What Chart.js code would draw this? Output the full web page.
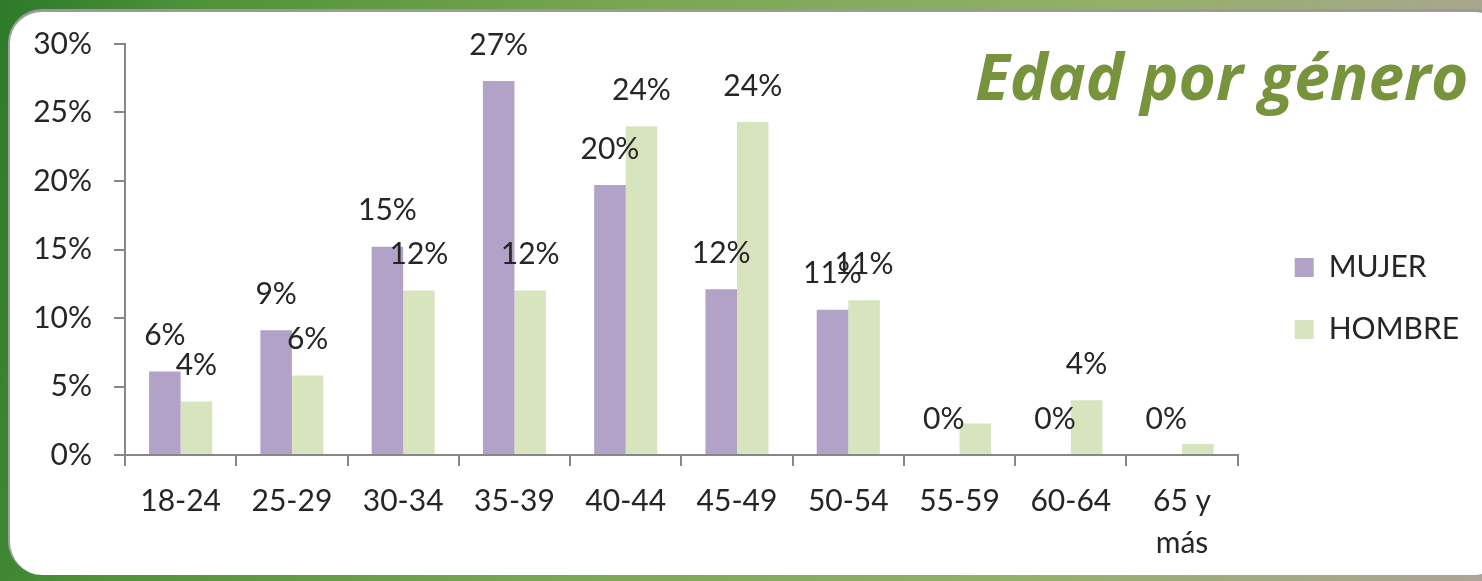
<!DOCTYPE html>
<html>
<head>
<meta charset="utf-8">
<script src="https://cdn.jsdelivr.net/npm/chart.js@4.4.0/dist/chart.umd.min.js"></script>
<style>
  html, body { margin:0; padding:0; width:1482px; height:581px; overflow:hidden; }
  body { background: linear-gradient(100deg, #2c7a29 0%, #4f9139 12%, #79a654 40%, #93b068 70%, #ada497 100%); position:relative; font-family: Lato, sans-serif; }
  #panel { position:absolute; left:8px; top:9px; width:1500px; height:566px; background:#fff; border-radius:34px; border-left:2px solid #a0a0a0; border-top:3px solid #9a9a9a; box-sizing:border-box; }
  #title { position:absolute; left:975px; top:44px; font-family: "Open Sans", sans-serif; font-weight:700; font-style:italic; font-size:64px; color:#77933c; white-space:nowrap; line-height:1; }
  canvas { position:absolute; left:0; top:0; }
</style>
</head>
<body>
<div id="panel"></div>
<canvas id="c" width="1482" height="581"></canvas>
<div id="title">Edad por género</div>
<script>
const categories = ['18-24', '25-29', '30-34', '35-39', '40-44', '45-49', '50-54', '55-59', '60-64', ['65 y', 'más']];
const mujer  = [6.1, 9.1, 15.2, 27.3, 19.7, 12.1, 10.6, 0, 0, 0];
const hombre = [3.9, 5.8, 12.0, 12.0, 24.0, 24.3, 11.3, 2.3, 4.0, 0.8];
const mujerLabels  = ['6%', '9%', '15%', '27%', '20%', '12%', '11%', '0%', '0%', '0%'];
const hombreLabels = ['4%', '6%', '12%', '12%', '24%', '24%', '11%', null, '4%', null];
const yTicks = [0, 5, 10, 15, 20, 25, 30];

const FONT = 'Lato';
const TXT = '#262626';
const AXIS = '#878787';

const labelPlugin = {
  id: 'barLabels',
  afterDatasetsDraw(chart) {
    const ctx = chart.ctx;
    const sets = [mujerLabels, hombreLabels];
    ctx.save();
    ctx.font = '30px ' + FONT;
    ctx.fillStyle = TXT;
    ctx.textAlign = 'center';
    ctx.textBaseline = 'middle';
    sets.forEach((labels, di) => {
      const meta = chart.getDatasetMeta(di);
      meta.data.forEach((el, i) => {
        if (labels[i] == null) return;
        ctx.fillText(labels[i], el.x, el.y - 36);
      });
    });
    ctx.restore();
  }
};

new Chart(document.getElementById('c'), {
  type: 'bar',
  data: {
    labels: categories,
    datasets: [
      { label: 'MUJER', data: mujer, backgroundColor: '#b3a2c7', categoryPercentage: 0.567, barPercentage: 1.0 },
      { label: 'HOMBRE', data: hombre, backgroundColor: '#d7e4bd', categoryPercentage: 0.567, barPercentage: 1.0 }
    ]
  },
  options: {
    responsive: false,
    animation: false,
    layout: { padding: { left: 33, top: 44, right: 13, bottom: 28 } },
    plugins: {
      tooltip: { enabled: false },
      title: { display: false },
      legend: {
        position: 'right',
        align: 'center',
        labels: {
          boxWidth: 19, boxHeight: 19, padding: 32,
          color: TXT,
          font: { family: FONT, size: 30 }
        }
      }
    },
    scales: {
      y: {
        min: 0, max: 30,
        afterBuildTicks(axis) { axis.ticks = yTicks.map(v => ({ value: v })); },
        afterFit(axis) { axis.width = 92; },
        ticks: { callback: v => v + '%', color: TXT, font: { family: FONT, size: 30 }, padding: 22 },
        grid: { drawOnChartArea: false, drawTicks: true, tickLength: 11, color: AXIS, lineWidth: 2 },
        border: { color: AXIS, width: 2 }
      },
      yRightGap: {
        position: 'right',
        display: true,
        afterFit(axis) { axis.width = 25; },
        ticks: { display: false },
        grid: { display: false },
        border: { display: false }
      },
      x: {
        afterFit(axis) { axis.height = 98; },
        ticks: { color: TXT, font: { family: FONT, size: 30, lineHeight: 1.4 }, padding: 14, maxRotation: 0, autoSkip: false },
        grid: { offset: true, drawOnChartArea: false, drawTicks: true, tickLength: 11, color: AXIS, lineWidth: 2 },
        border: { color: AXIS, width: 2 }
      }
    }
  },
  plugins: [labelPlugin]
});
</script>
</body>
</html>
